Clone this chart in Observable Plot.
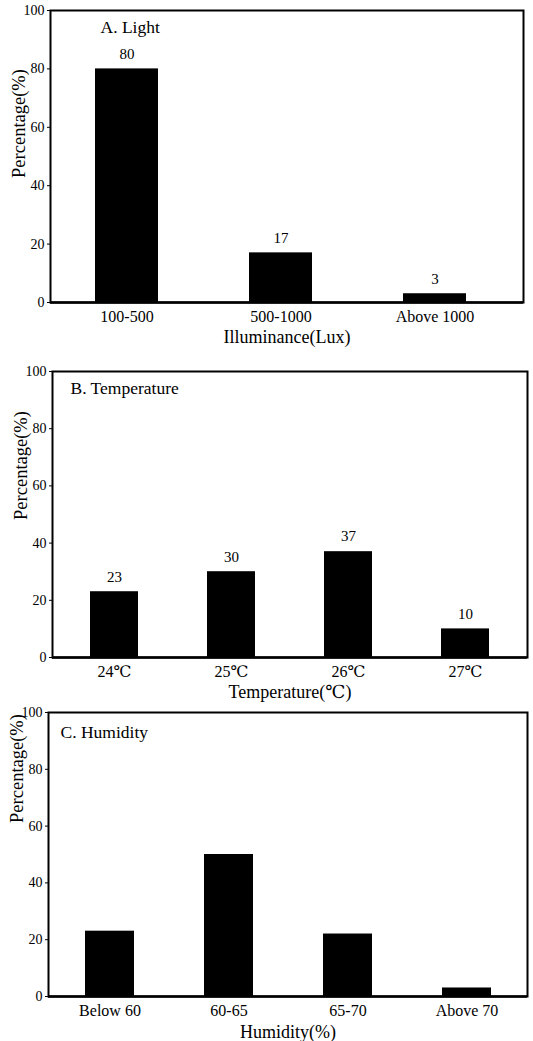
<!DOCTYPE html>
<html><head><meta charset="utf-8">
<script src="https://cdn.jsdelivr.net/npm/d3@7"></script>
<script src="https://cdn.jsdelivr.net/npm/@observablehq/plot@0.6"></script>
<style>
body{margin:0;background:#fff;}
#chart svg{display:block;}
</style></head><body><div id="chart"></div>
<script>
const yTicks = [0, 20, 40, 60, 80, 100];
const yLabel = "Percentage(%)";

const lightCats = ["100-500", "500-1000", "Above 1000"];
const lightVals = [80, 17, 3];

const tempCats = ["24℃", "25℃", "26℃", "27℃"];
const tempVals = [23, 30, 37, 10];

const humCats = ["Below 60", "60-65", "65-70", "Above 70"];
const humVals = [23, 50, 22, 3];

const FONT = "'Liberation Serif', 'DejaVu Serif', serif";

function panel(o) {
  const data = o.cats.map((c, i) => ({cat: c, val: o.vals[i]}));
  return Plot.plot({
    width: 533, height: o.height,
    marginTop: o.mt, marginBottom: o.mb, marginLeft: o.ml, marginRight: o.mr,
    style: {fontFamily: FONT, fontSize: "14px", color: "#000", background: "#fff", overflow: "visible"},
    x: {domain: o.cats, paddingInner: o.pi, paddingOuter: o.po, align: o.align, label: null},
    y: {domain: [0, 100], label: null},
    marks: [
      Plot.barY(data, {x: "cat", y: "val", fill: "#000"}),
      Plot.frame({stroke: "#000", strokeWidth: 2}),
      Plot.ruleY([0], {stroke: "#000", strokeWidth: 2.5}),
      Plot.axisY({ticks: yTicks, tickSize: 3, tickPadding: 3, label: null, fontSize: 14}),
      Plot.axisX({tickSize: 0, tickPadding: 8, label: null, fontSize: 16}),
      o.showValues ? Plot.text(data, {x: "cat", y: "val", text: d => String(d.val), dy: -15, fontSize: 15}) : null,
      Plot.text([o.title], {text: d => d, frameAnchor: "top-left", textAnchor: "start", lineAnchor: "middle", dx: o.tdx, dy: o.tdy, fontSize: 17.5}),
      Plot.text([o.xlabel], {text: d => d, frameAnchor: "bottom", textAnchor: "middle", lineAnchor: "middle", dy: o.xdy, fontSize: 18}),
      Plot.text([yLabel], {text: d => d, frameAnchor: "left", textAnchor: "middle", lineAnchor: "middle", rotate: -90, dx: -31, dy: o.ydy, fontSize: 18.5})
    ]
  });
}

const root = document.getElementById("chart");
root.append(panel({cats: lightCats, vals: lightVals, showValues: true, title: "A. Light", xlabel: "Illuminance(Lux)",
  height: 360, mt: 10, mb: 58, ml: 50, mr: 10, pi: 0.59, po: 0.33, align: 0.44, tdx: 50, tdy: 17, xdy: 35, ydy: -33}));
root.append(panel({cats: tempCats, vals: tempVals, showValues: true, title: "B. Temperature", xlabel: "Temperature(℃)",
  height: 347, mt: 11, mb: 50, ml: 52, mr: 6, pi: 0.593, po: 0.31, align: 0.5, tdx: 18, tdy: 17, xdy: 35, ydy: -49}));
root.append(panel({cats: humCats, vals: humVals, showValues: false, title: "C. Humidity", xlabel: "Humidity(%)",
  height: 334, mt: 5, mb: 45, ml: 48, mr: 6, pi: 0.59, po: 0.295, align: 0.51, tdx: 12, tdy: 20, xdy: 36, ydy: -86}));
</script></body></html>
